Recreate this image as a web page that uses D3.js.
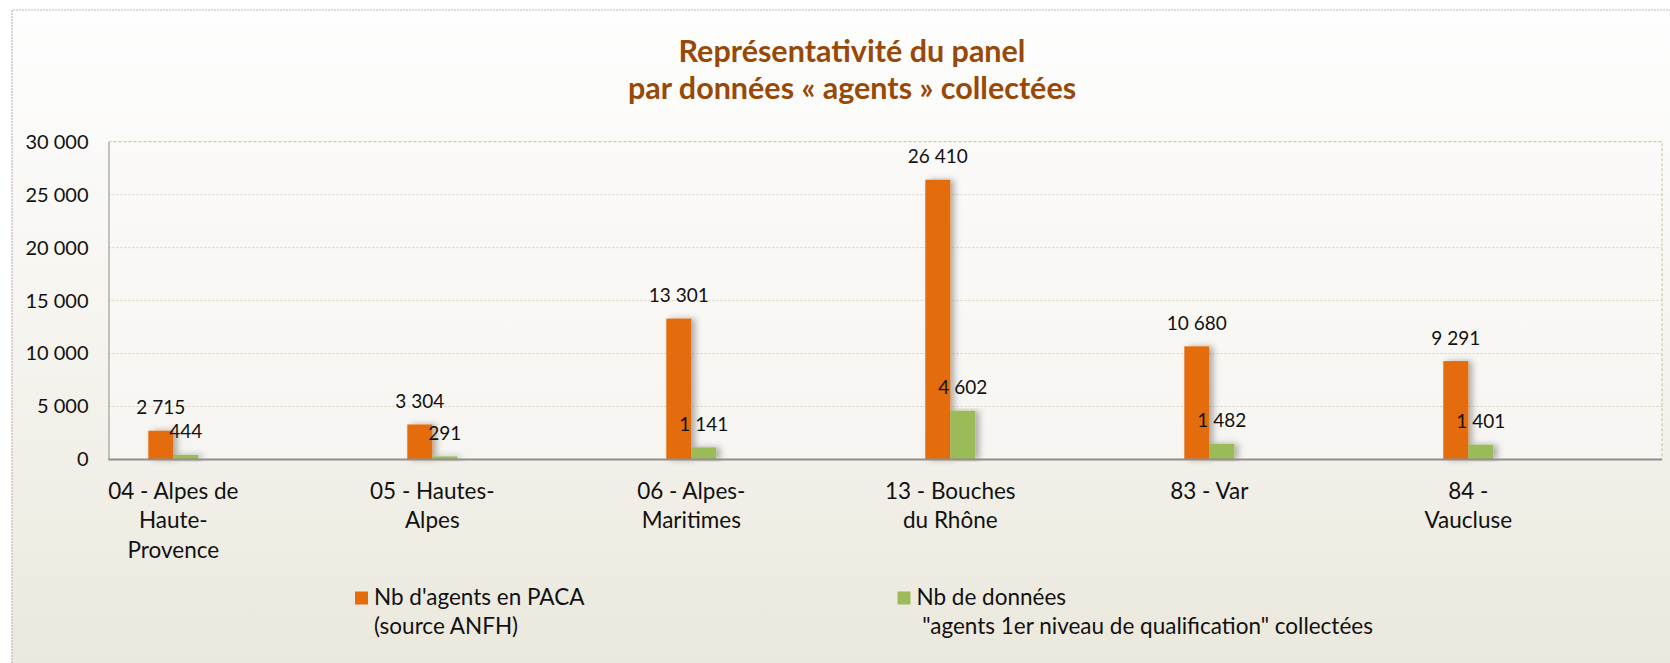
<!DOCTYPE html>
<html>
<head>
<meta charset="utf-8">
<script src="https://cdn.jsdelivr.net/npm/d3@7"></script>
<style>
body { margin: 0; background: #fff; }
svg text { font-family: Lato, "Open Sans", sans-serif; fill: #111; }
</style>
</head>
<body>
<script>
// data
var categories = ["04 - Alpes de\nHaute-\nProvence", "05 - Hautes-\nAlpes", "06 - Alpes-\nMaritimes",
                  "13 - Bouches\ndu Rhône", "83 - Var", "84 -\nVaucluse"];
var agents = [2715, 3304, 13301, 26410, 10680, 9291];
var collected = [444, 291, 1141, 4602, 1482, 1401];
var yTicks = [0, 5000, 10000, 15000, 20000, 25000, 30000];
var seriesNames = [["Nb d'agents en PACA", "(source ANFH)"],
                   ["Nb de données", " \"agents 1er niveau de qualification\" collectées"]];
var seriesColors = ["#e46c0a", "#9bbb59"];
var titleLines = ["Représentativité du panel", "par données « agents » collectées"];

var W = 1670, H = 663;
var plotL = 108.5, plotR = 1662, plotT = 141.7, plotB = 459.5;

var svg = d3.select("body").append("svg")
            .attr("width", W)
            .attr("height", H);

var defs = svg.append("defs");
var grad = defs.append("linearGradient").attr("id", "bg")
               .attr("x1", 0).attr("y1", 0).attr("x2", 0).attr("y2", 1);
grad.append("stop").attr("offset", "0%").attr("stop-color", "#fefefe");
grad.append("stop").attr("offset", "45%").attr("stop-color", "#f6f5f0");
grad.append("stop").attr("offset", "100%").attr("stop-color", "#ebe8dd");

var shadow = defs.append("filter").attr("id", "shadow")
                 .attr("x", "-20%").attr("y", "-5%").attr("width", "160%").attr("height", "110%");
shadow.append("feDropShadow").attr("dx", 4).attr("dy", 0).attr("stdDeviation", 3)
      .attr("flood-color", "#000").attr("flood-opacity", 0.3);

// background + outer dotted frame
svg.append("rect").attr("x", 12).attr("y", 10).attr("width", W - 12).attr("height", H - 10)
   .attr("fill", "url(#bg)");
svg.append("path").attr("d", "M12," + H + "V10H" + W)
   .attr("fill", "none").attr("stroke", "#c4b2b8").attr("stroke-width", 1.2)
   .attr("stroke-dasharray", "2,1");

// title
svg.selectAll("text.title")
    .data(titleLines)
    .enter().append("text")
    .attr("class", "title")
    .attr("x", 852)
    .attr("y", function(d, i) {return 51.7 + i * 36.6;})
    .attr("dy", "0.35em")
    .attr("text-anchor", "middle")
    .style("font-weight", "bold")
    .style("font-size", "30.5px")
    .style("fill", "#984807")
    .text(function(d) {return d;});

var x = d3.scalePoint().domain(categories).range([173.3, 1468.3]);
var xs = d3.scaleBand().domain([0, 1]).range([-25, 25]);
var y = d3.scaleLinear().domain([0, 30000]).range([plotB, plotT]);

// plot area
svg.append("rect").attr("x", plotL).attr("y", plotT)
   .attr("width", plotR - plotL).attr("height", plotB - plotT)
   .attr("fill", "#fbfaf7").attr("fill-opacity", 0.55);

svg.selectAll("line.grid")
    .data(yTicks.slice(1, -1))
    .enter().append("line")
    .attr("class", "grid")
    .attr("x1", plotL).attr("x2", plotR)
    .attr("y1", function(d) {return y(d);})
    .attr("y2", function(d) {return y(d);})
    .attr("stroke", "#d5d2bb").attr("stroke-dasharray", "2,2");

svg.append("path")
   .attr("d", "M" + plotL + "," + y(30000) + "H" + plotR + "V" + plotB)
   .attr("fill", "none").attr("stroke", "#d0cba3").attr("stroke-width", 1.2)
   .attr("stroke-dasharray", "3,2");

var yAxis = svg.append("g")
    .attr("transform", "translate(" + plotL + ",0)")
    .call(d3.axisLeft(y).tickValues(yTicks).tickSize(0).tickPadding(20)
          .tickFormat(function(d) {return d3.format(",")(d).replace(/,/g, " ");}));
yAxis.select(".domain").attr("stroke", "#8a8a8a");
yAxis.selectAll("text").style("font-size", "20px").style("font-family", "Lato, 'Open Sans', sans-serif");

// bars
var series = [agents, collected];
series.forEach(function(vals, s) {
  svg.append("g").attr("filter", "url(#shadow)")
     .selectAll("rect")
     .data(vals)
     .enter().append("rect")
     .attr("x", function(d, i) {return x(categories[i]) + xs(s);})
     .attr("width", xs.bandwidth())
     .attr("y", function(d) {return y(d);})
     .attr("height", function(d) {return y(0) - y(d);})
     .attr("fill", seriesColors[s]);
});

svg.append("line")
   .attr("x1", plotL).attr("x2", plotR)
   .attr("y1", y(0)).attr("y2", y(0))
   .attr("stroke", "#8f8f8f").attr("stroke-width", 2);

// value labels
series.forEach(function(vals, s) {
  svg.append("g")
     .selectAll("text")
     .data(vals)
     .enter().append("text")
     .attr("x", function(d, i) {return x(categories[i]) + xs(s) + xs.bandwidth() / 2;})
     .attr("y", function(d) {return y(d) - 23;})
     .attr("dy", "0.35em")
     .attr("text-anchor", "middle")
     .style("font-size", "19px")
     .text(function(d) {return d3.format(",")(d).replace(/,/g, " ");});
});

// category labels
var cat = svg.append("g").selectAll("text")
    .data(categories)
    .enter().append("text")
    .attr("text-anchor", "middle")
    .style("font-size", "22.5px");
cat.each(function(c) {
  var t = d3.select(this);
  c.split("\n").forEach(function(line, k) {
    t.append("tspan")
     .attr("x", x(c))
     .attr("y", 491 + k * 29.5)
     .attr("dy", "0.35em")
     .text(line);
  });
});

// legend
var legendX = [355, 897.5];
var leg = svg.selectAll("g.legend")
    .data(seriesNames)
    .enter().append("g")
    .attr("class", "legend")
    .attr("transform", function(d, i) {return "translate(" + legendX[i] + ",0)";});
leg.append("rect")
   .attr("x", 0).attr("y", 591.5)
   .attr("width", 13).attr("height", 13)
   .attr("fill", function(d, i) {return seriesColors[i];});
leg.each(function(d) {
  var g = d3.select(this);
  d.forEach(function(line, k) {
    g.append("text")
     .attr("x", 19)
     .attr("y", 597.5 + k * 28.5)
     .attr("dy", "0.35em")
     .style("font-size", "22.5px")
     .style("white-space", "pre")
     .text(line);
  });
});
</script>
</body>
</html>
